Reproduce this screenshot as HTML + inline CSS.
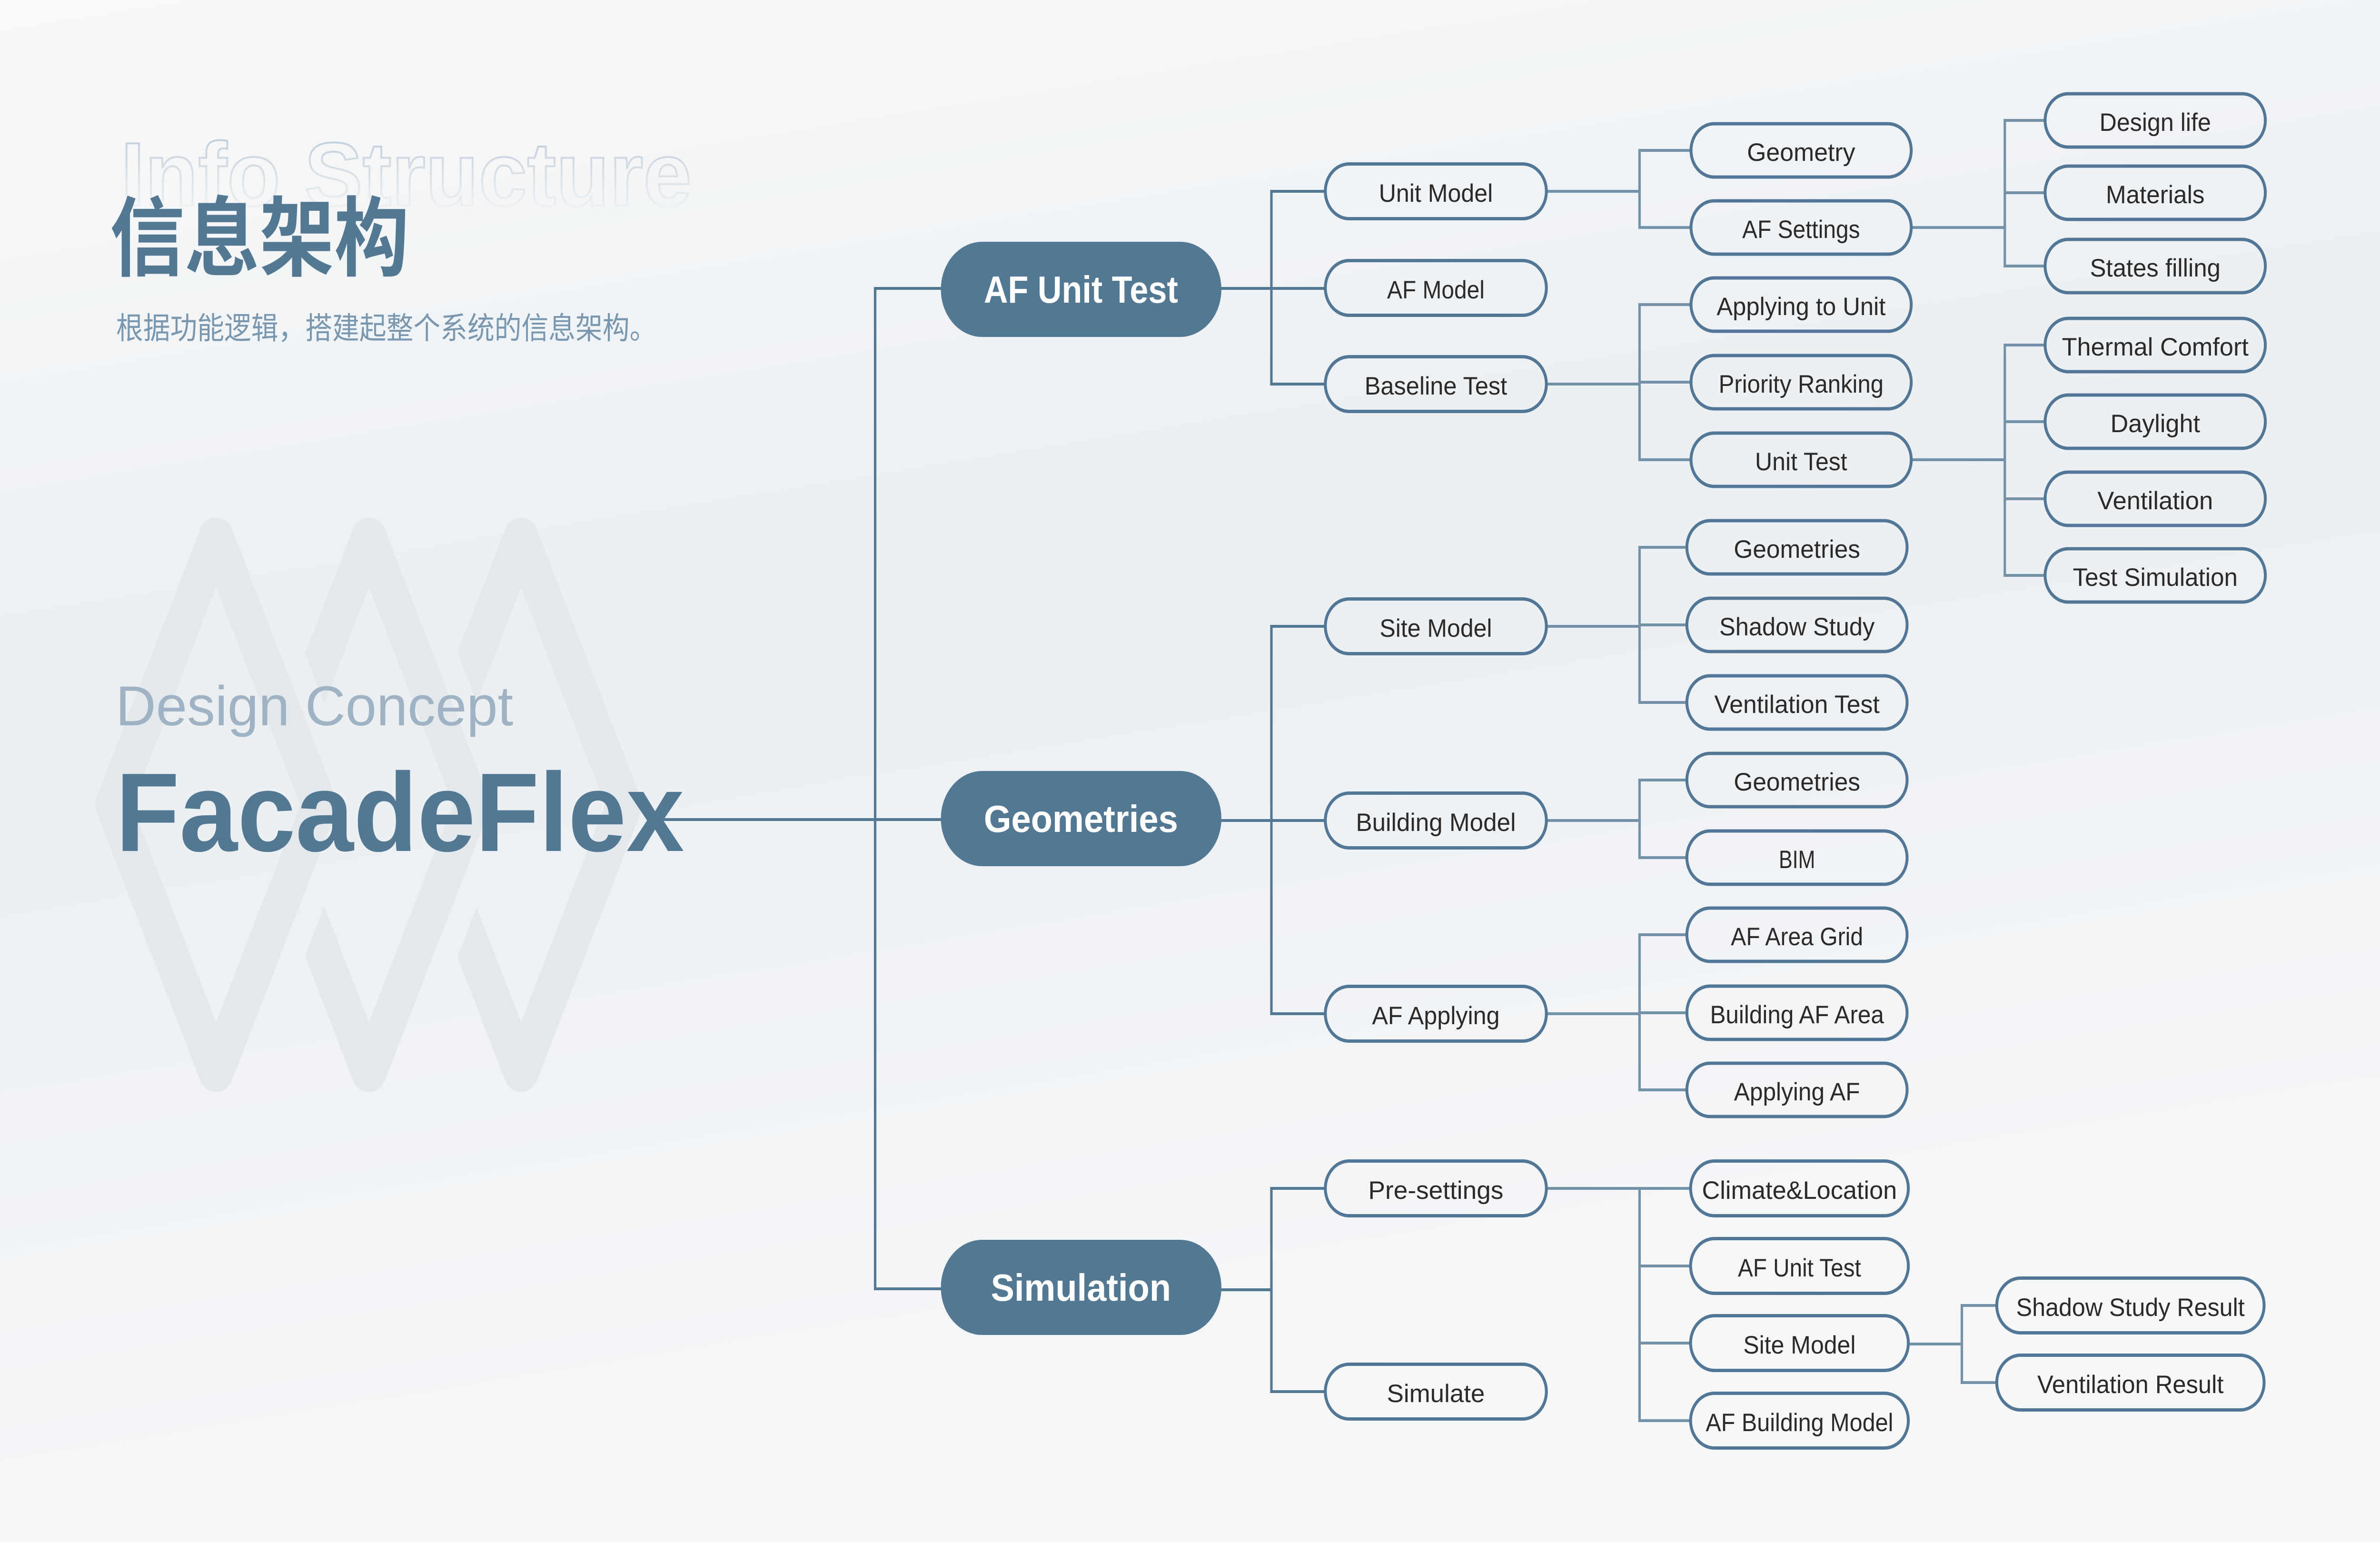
<!DOCTYPE html>
<html><head><meta charset="utf-8"><style>
html,body{margin:0;padding:0;width:100%;height:100%;overflow:hidden;background:#f1f3f6}
svg{display:block;width:100vw;height:100vh}
</style></head><body>
<svg viewBox="0 0 5760 3240" preserveAspectRatio="none" xmlns="http://www.w3.org/2000/svg">
<defs>
<linearGradient id="bg" x1="0" y1="0" x2="0.25" y2="1">
<stop offset="0" stop-color="#f8f9fa"/>
<stop offset="0.45" stop-color="#ebeff2"/>
<stop offset="1" stop-color="#f6f7f9"/>
</linearGradient>
<linearGradient id="ol" gradientUnits="userSpaceOnUse" x1="0" y1="290" x2="0" y2="440">
<stop offset="0" stop-color="#c3cfda"/>
<stop offset="1" stop-color="#eef1f4"/>
</linearGradient>
<mask id="m2" maskUnits="userSpaceOnUse" x="0" y="0" width="5760" height="3240">
<rect x="0" y="0" width="5760" height="3240" fill="#fff"/>
<polygon points="523,1130 773,1691 523,2252 273,1691" fill="#000" stroke="#000" stroke-width="195" stroke-linejoin="round"/>
</mask>
<mask id="m3" maskUnits="userSpaceOnUse" x="0" y="0" width="5760" height="3240">
<rect x="0" y="0" width="5760" height="3240" fill="#fff"/>
<polygon points="893,1130 1143,1691 893,2252 643,1691" fill="#000" stroke="#000" stroke-width="195" stroke-linejoin="round"/>
</mask>
</defs>
<rect x="0" y="0" width="5760" height="3240" fill="url(#bg)"/>

<!-- decorative diamonds -->
<g fill="none" stroke="#e3e8ec" stroke-width="85" stroke-linejoin="round">
<polygon points="1261,1130 1511,1691 1261,2252 1011,1691" mask="url(#m3)"/>
<polygon points="893,1130 1143,1691 893,2252 643,1691" mask="url(#m2)"/>
<polygon points="523,1130 773,1691 523,2252 273,1691"/>
</g>

<!-- left titles -->
<text x="292" y="432" font-family="'Liberation Sans',sans-serif" font-weight="bold" font-size="190" fill="none" stroke="url(#ol)" stroke-width="4" textLength="1382" lengthAdjust="spacingAndGlyphs">Info Structure</text>
<text x="266" y="565" font-family="'Liberation Sans','Noto Sans CJK SC',sans-serif" font-weight="bold" font-size="182" fill="#537893" textLength="724" lengthAdjust="spacingAndGlyphs">信息架构</text>
<text x="281" y="712" font-family="'Liberation Sans','Noto Sans CJK SC',sans-serif" font-size="64" fill="#7a97b0" textLength="1308" lengthAdjust="spacingAndGlyphs">根据功能逻辑，搭建起整个系统的信息架构。</text>
<text x="280" y="1524" font-family="'Liberation Sans',sans-serif" font-size="118" fill="#a0b3c4" textLength="962" lengthAdjust="spacingAndGlyphs">Design Concept</text>

<!-- trunk connectors (dark) -->
<g fill="none" stroke="#537893" stroke-width="6">
<line x1="1603" y1="1722" x2="2280" y2="1722"/>
<polyline points="2280,606 2118,606 2118,2708 2280,2708"/>
<line x1="2950" y1="606" x2="3207" y2="606"/>
<polyline points="3207,402 3077,402 3077,807 3207,807"/>
<line x1="2950" y1="1724" x2="3207" y2="1724"/>
<polyline points="3207,1316 3077,1316 3077,2130 3207,2130"/>
<line x1="2950" y1="2710" x2="3077" y2="2710"/>
<polyline points="3207,2497 3077,2497 3077,2924 3207,2924"/>
</g>

<text x="280" y="1788" font-family="'Liberation Sans',sans-serif" font-weight="bold" font-size="235" fill="#537893" textLength="1376" lengthAdjust="spacingAndGlyphs">FacadeFlex</text>

<!-- lighter connectors -->
<g fill="none" stroke="#7392a8" stroke-width="6">
<line x1="3743" y1="402" x2="3968" y2="402"/>
<polyline points="4092,316 3968,316 3968,478 4092,478"/>
<line x1="3743" y1="807" x2="3968" y2="807"/>
<polyline points="4092,640 3968,640 3968,966 4092,966"/>
<line x1="3968" y1="803" x2="4092" y2="803"/>
<line x1="3743" y1="1316" x2="3968" y2="1316"/>
<polyline points="4082,1150 3968,1150 3968,1476 4082,1476"/>
<line x1="3968" y1="1313" x2="4082" y2="1313"/>
<line x1="3743" y1="1724" x2="3968" y2="1724"/>
<polyline points="4082,1639 3968,1639 3968,1802 4082,1802"/>
<line x1="3743" y1="2130" x2="3968" y2="2130"/>
<polyline points="4082,1964 3968,1964 3968,2290 4082,2290"/>
<line x1="3968" y1="2128" x2="4082" y2="2128"/>
<line x1="3743" y1="2497" x2="4091" y2="2497"/>
<polyline points="3968,2497 3968,2985 4091,2985"/>
<line x1="3968" y1="2660" x2="4091" y2="2660"/>
<line x1="3968" y1="2822" x2="4091" y2="2822"/>
<line x1="4626" y1="478" x2="4852" y2="478"/>
<polyline points="4949,253 4852,253 4852,559 4949,559"/>
<line x1="4852" y1="405" x2="4949" y2="405"/>
<line x1="4626" y1="966" x2="4852" y2="966"/>
<polyline points="4949,725 4852,725 4852,1209 4949,1209"/>
<line x1="4852" y1="886" x2="4949" y2="886"/>
<line x1="4852" y1="1048" x2="4949" y2="1048"/>
<line x1="4619" y1="2824" x2="4748" y2="2824"/>
<polyline points="4832,2743 4748,2743 4748,2905 4832,2905"/>
</g>

<!-- level 1 nodes -->
<g fill="#537893">
<rect x="2277" y="508" width="679" height="200" rx="100"/>
<rect x="2277" y="1620" width="679" height="200" rx="100"/>
<rect x="2277" y="2605" width="679" height="200" rx="100"/>
</g>
<g font-family="'Liberation Sans',sans-serif" font-weight="bold" font-size="80" fill="#ffffff" text-anchor="middle">
<text x="2616" y="636" textLength="470" lengthAdjust="spacingAndGlyphs">AF Unit Test</text>
<text x="2616" y="1748" textLength="470" lengthAdjust="spacingAndGlyphs">Geometries</text>
<text x="2616" y="2733" textLength="436" lengthAdjust="spacingAndGlyphs">Simulation</text>
</g>

<!-- outlined nodes -->
<g fill="none" stroke="#527796" stroke-width="7">
<rect x="3207.5" y="344.5" width="535" height="115" rx="57.5"/>
<rect x="3207.5" y="547.5" width="535" height="115" rx="57.5"/>
<rect x="3207.5" y="749.5" width="535" height="115" rx="57.5"/>
<rect x="3207.5" y="1258.5" width="535" height="115" rx="57.5"/>
<rect x="3207.5" y="1666.5" width="535" height="115" rx="57.5"/>
<rect x="3207.5" y="2072.5" width="535" height="115" rx="57.5"/>
<rect x="3207.5" y="2439.5" width="535" height="115" rx="57.5"/>
<rect x="3207.5" y="2866.5" width="535" height="115" rx="57.5"/>

<rect x="4092.5" y="260" width="533" height="112" rx="56"/>
<rect x="4092.5" y="422" width="533" height="112" rx="56"/>
<rect x="4092.5" y="584" width="533" height="112" rx="56"/>
<rect x="4092.5" y="747" width="533" height="112" rx="56"/>
<rect x="4092.5" y="910" width="533" height="112" rx="56"/>

<rect x="4082.5" y="1094" width="533" height="112" rx="56"/>
<rect x="4082.5" y="1257" width="533" height="112" rx="56"/>
<rect x="4082.5" y="1420" width="533" height="112" rx="56"/>
<rect x="4082.5" y="1583" width="533" height="112" rx="56"/>
<rect x="4082.5" y="1746" width="533" height="112" rx="56"/>
<rect x="4082.5" y="1908" width="533" height="112" rx="56"/>
<rect x="4082.5" y="2072" width="533" height="112" rx="56"/>
<rect x="4082.5" y="2234" width="533" height="112" rx="56"/>

<rect x="4091.5" y="2439.5" width="527" height="115" rx="57.5"/>
<rect x="4091.5" y="2602.5" width="527" height="115" rx="57.5"/>
<rect x="4091.5" y="2764.5" width="527" height="115" rx="57.5"/>
<rect x="4091.5" y="2927.5" width="527" height="115" rx="57.5"/>

<rect x="4949.5" y="197" width="533" height="112" rx="56"/>
<rect x="4949.5" y="349" width="533" height="112" rx="56"/>
<rect x="4949.5" y="503" width="533" height="112" rx="56"/>
<rect x="4949.5" y="669" width="533" height="112" rx="56"/>
<rect x="4949.5" y="830" width="533" height="112" rx="56"/>
<rect x="4949.5" y="992" width="533" height="112" rx="56"/>
<rect x="4949.5" y="1153" width="533" height="112" rx="56"/>

<rect x="4832.5" y="2685.5" width="647" height="115" rx="57.5"/>
<rect x="4832.5" y="2847.5" width="647" height="115" rx="57.5"/>
</g>

<g font-family="'Liberation Sans',sans-serif" font-size="53" fill="#2a2a2a" text-anchor="middle">
<text x="3475" y="424" textLength="276" lengthAdjust="spacingAndGlyphs">Unit Model</text>
<text x="3475" y="627" textLength="236" lengthAdjust="spacingAndGlyphs">AF Model</text>
<text x="3475" y="829" textLength="345" lengthAdjust="spacingAndGlyphs">Baseline Test</text>
<text x="3475" y="1338" textLength="272" lengthAdjust="spacingAndGlyphs">Site Model</text>
<text x="3475" y="1746" textLength="387" lengthAdjust="spacingAndGlyphs">Building Model</text>
<text x="3475" y="2152" textLength="309" lengthAdjust="spacingAndGlyphs">AF Applying</text>
<text x="3475" y="2519" textLength="327" lengthAdjust="spacingAndGlyphs">Pre-settings</text>
<text x="3475" y="2946" textLength="237" lengthAdjust="spacingAndGlyphs">Simulate</text>

<text x="4359" y="338" textLength="262" lengthAdjust="spacingAndGlyphs">Geometry</text>
<text x="4359" y="500" textLength="285" lengthAdjust="spacingAndGlyphs">AF Settings</text>
<text x="4359" y="662" textLength="409" lengthAdjust="spacingAndGlyphs">Applying to Unit</text>
<text x="4359" y="825" textLength="399" lengthAdjust="spacingAndGlyphs">Priority Ranking</text>
<text x="4359" y="988" textLength="223" lengthAdjust="spacingAndGlyphs">Unit Test</text>

<text x="4349" y="1172" textLength="306" lengthAdjust="spacingAndGlyphs">Geometries</text>
<text x="4349" y="1335" textLength="376" lengthAdjust="spacingAndGlyphs">Shadow Study</text>
<text x="4349" y="1498" textLength="400" lengthAdjust="spacingAndGlyphs">Ventilation Test</text>
<text x="4349" y="1661" textLength="306" lengthAdjust="spacingAndGlyphs">Geometries</text>
<text x="4349" y="1824" textLength="88" lengthAdjust="spacingAndGlyphs">BIM</text>
<text x="4349" y="1986" textLength="320" lengthAdjust="spacingAndGlyphs">AF Area Grid</text>
<text x="4349" y="2150" textLength="421" lengthAdjust="spacingAndGlyphs">Building AF Area</text>
<text x="4349" y="2312" textLength="305" lengthAdjust="spacingAndGlyphs">Applying AF</text>

<text x="4355" y="2519" textLength="472" lengthAdjust="spacingAndGlyphs">Climate&amp;Location</text>
<text x="4355" y="2682" textLength="298" lengthAdjust="spacingAndGlyphs">AF Unit Test</text>
<text x="4355" y="2844" textLength="272" lengthAdjust="spacingAndGlyphs">Site Model</text>
<text x="4355" y="3007" textLength="454" lengthAdjust="spacingAndGlyphs">AF Building Model</text>

<text x="5216" y="275" textLength="270" lengthAdjust="spacingAndGlyphs">Design life</text>
<text x="5216" y="427" textLength="239" lengthAdjust="spacingAndGlyphs">Materials</text>
<text x="5216" y="581" textLength="316" lengthAdjust="spacingAndGlyphs">States filling</text>
<text x="5216" y="747" textLength="452" lengthAdjust="spacingAndGlyphs">Thermal Comfort</text>
<text x="5216" y="908" textLength="217" lengthAdjust="spacingAndGlyphs">Daylight</text>
<text x="5216" y="1070" textLength="280" lengthAdjust="spacingAndGlyphs">Ventilation</text>
<text x="5216" y="1231" textLength="399" lengthAdjust="spacingAndGlyphs">Test Simulation</text>

<text x="5156" y="2765" textLength="553" lengthAdjust="spacingAndGlyphs">Shadow Study Result</text>
<text x="5156" y="2927" textLength="451" lengthAdjust="spacingAndGlyphs">Ventilation Result</text>
</g>
</svg>
</body></html>
